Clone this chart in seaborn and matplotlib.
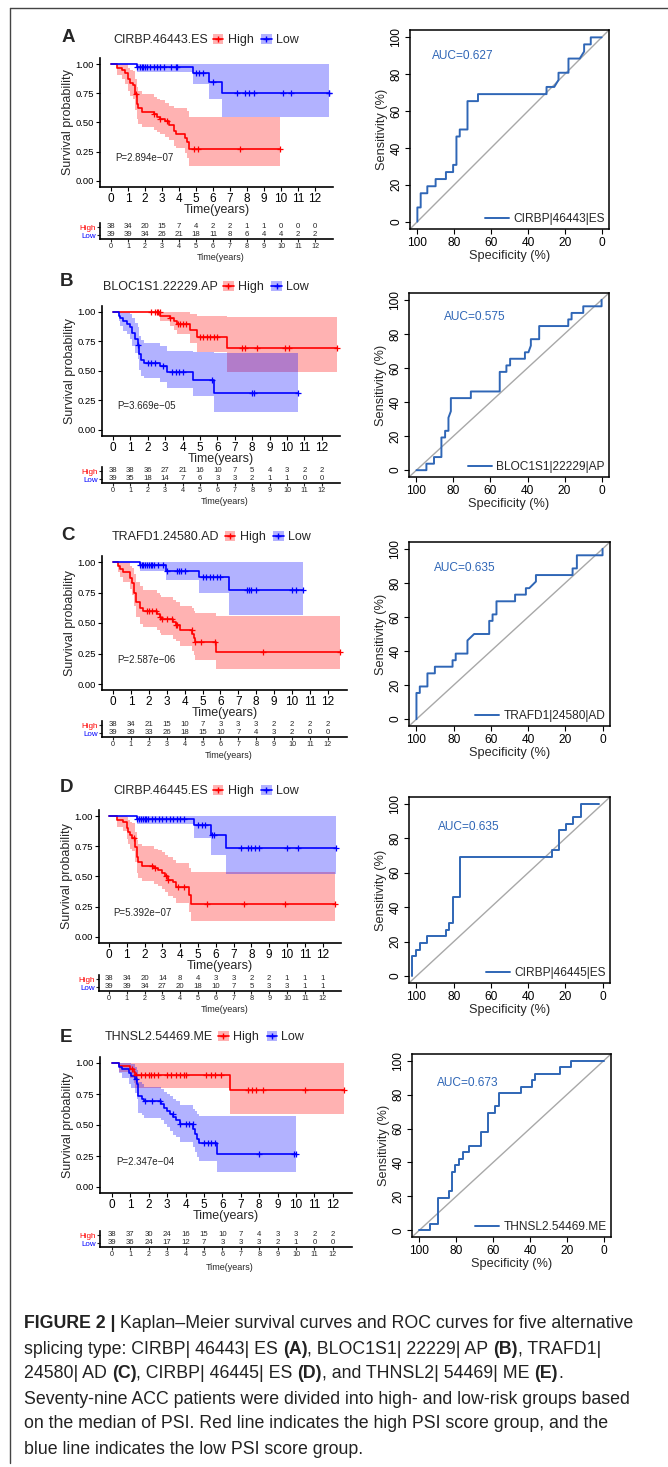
import numpy as np
import matplotlib
matplotlib.use("Agg")
import matplotlib.pyplot as plt
import seaborn as sns
from matplotlib.patches import Patch
from matplotlib.lines import Line2D

# ======================= DATA =======================
YEARS = list(range(13))

# ---- Panel A : CIRBP.46443.ES ----
A_hi_t = [0, 0.33, 0.63, 0.82, 1.0, 1.1, 1.3, 1.4, 1.5, 1.6, 1.8, 2.5, 2.7, 2.9, 3.2, 3.4, 3.7, 3.8, 4.35, 4.45, 4.6, 9.95]
A_hi_s = [1, 0.97, 0.95, 0.92, 0.87, 0.84, 0.82, 0.74, 0.66, 0.62, 0.59, 0.57, 0.55, 0.53, 0.51, 0.48, 0.43, 0.40, 0.37, 0.33, 0.27, 0.27]
A_hi_lo = [1, 0.91, 0.87, 0.83, 0.77, 0.73, 0.70, 0.61, 0.53, 0.49, 0.46, 0.44, 0.42, 0.40, 0.38, 0.35, 0.30, 0.28, 0.24, 0.20, 0.13, 0.13]
A_hi_up = [1, 1, 1, 1, 0.97, 0.95, 0.94, 0.87, 0.80, 0.77, 0.74, 0.72, 0.70, 0.69, 0.67, 0.64, 0.62, 0.62, 0.62, 0.60, 0.55, 0.55]
A_hi_cens = [1.45, 2.5, 2.9, 3.3, 4.9, 5.1, 7.6, 9.95]
A_lo_t = [0, 1.5, 4.8, 5.76, 6.5, 12.85]
A_lo_s = [1, 0.975, 0.925, 0.85, 0.75, 0.75]
A_lo_lo = [1, 0.93, 0.83, 0.70, 0.55, 0.55]
A_lo_up = [1, 1, 1, 1, 1, 1]
A_lo_cens = [1.5, 1.7, 1.8, 1.9, 2.0, 2.1, 2.3, 2.5, 2.7, 2.9, 3.1, 3.5, 3.8, 3.9, 5.0, 5.2, 5.4, 6.0,
             7.4, 7.9, 8.1, 8.4, 10.1, 10.6, 12.8, 12.85]
A_risk_high = [38, 34, 20, 15, 7, 4, 2, 2, 1, 1, 0, 0, 0]
A_risk_low = [39, 39, 34, 26, 21, 18, 11, 8, 6, 4, 4, 2, 2]
A_roc_spec = [100, 100, 98.2, 98.2, 94.6, 94.6, 90.1, 90.1, 84.5, 84.5, 80.6, 80.6, 78.8, 78.8, 77, 77, 72.8,
              72.8, 67.1, 67.1, 29.9, 29.9, 25.7, 23.4, 23.4, 18, 18, 11.9, 9.5, 9.5, 5.9, 5.9, 0]
A_roc_sens = [0, 7.7, 7.7, 15.4, 15.4, 19.2, 19.2, 23.1, 23.1, 26.9, 26.9, 30.8, 30.8, 46.2, 46.2, 50, 50,
              65.4, 65.4, 69.2, 69.2, 73.1, 73.1, 76.9, 80.8, 80.8, 88.5, 88.5, 92.3, 96.2, 96.2, 100, 100]

# ---- Panel B : BLOC1S1.22229.AP ----
B_hi_t = [0, 2.72, 3.3, 3.5, 3.67, 4.44, 4.8, 6.55, 12.85]
B_hi_s = [1, 0.97, 0.945, 0.92, 0.895, 0.845, 0.79, 0.695, 0.695]
B_hi_lo = [1, 0.92, 0.88, 0.85, 0.81, 0.74, 0.66, 0.49, 0.49]
B_hi_up = [1, 1, 1, 1, 1, 0.98, 0.97, 0.96, 0.96]
B_hi_cens = [2.2, 2.4, 2.5, 2.6, 2.7, 3.3, 3.75, 3.85, 4.0, 4.2, 5.0, 5.2, 5.4, 5.6, 5.8, 6.0, 7.4, 7.6,
             8.3, 9.9, 10.1, 12.85]
B_lo_t = [0, 0.33, 0.42, 0.6, 0.8, 1.0, 1.1, 1.28, 1.42, 1.5, 1.6, 1.76, 2.7, 3.1, 4.6, 5.78, 10.66]
B_lo_s = [1, 0.97, 0.945, 0.92, 0.895, 0.87, 0.82, 0.77, 0.72, 0.64, 0.59, 0.57, 0.54, 0.49, 0.425, 0.315, 0.315]
B_lo_lo = [1, 0.92, 0.88, 0.84, 0.81, 0.77, 0.71, 0.65, 0.60, 0.51, 0.46, 0.44, 0.41, 0.36, 0.29, 0.155, 0.155]
B_lo_up = [1, 1, 1, 1, 1, 0.98, 0.95, 0.91, 0.87, 0.80, 0.76, 0.74, 0.71, 0.67, 0.66, 0.655, 0.655]
B_lo_cens = [1.45, 2.0, 2.2, 2.4, 2.9, 3.4, 3.6, 3.8, 4.0, 5.7, 8.0, 8.1, 10.66]
B_risk_high = [38, 38, 36, 27, 21, 16, 10, 7, 5, 4, 3, 2, 2]
B_risk_low = [39, 35, 18, 14, 7, 6, 3, 3, 2, 1, 1, 0, 0]
B_roc_spec = [100, 94.6, 94.6, 90.5, 90.5, 86.5, 86.5, 84.5, 84.5, 82.7, 82.7, 81.4, 81.4, 70.6, 70.6, 55, 55,
              51.4, 51.4, 49.4, 49.4, 41.4, 41.4, 39.5, 38.2, 38.2, 33.7, 33.7, 18, 18, 16.2, 16.2, 9.9, 9.9, 0, 0]
B_roc_sens = [0, 0, 3.8, 3.8, 7.7, 7.7, 19.2, 19.2, 23.1, 23.1, 30.8, 34.6, 42.3, 42.3, 46.2, 46.2, 57.7, 57.7,
              61.5, 61.5, 65.4, 65.4, 69.2, 69.2, 73.1, 76.9, 76.9, 84.6, 84.6, 88.5, 88.5, 92.3, 92.3, 96.2, 96.2, 100]

# ---- Panel C : TRAFD1.24580.AD ----
C_hi_t = [0, 0.28, 0.4, 0.55, 0.93, 1.08, 1.2, 1.3, 1.5, 1.67, 2.45, 2.6, 2.7, 3.35, 3.5, 3.72, 4.43, 4.5, 4.56, 5.77, 12.7]
C_hi_s = [1, 0.97, 0.945, 0.92, 0.87, 0.83, 0.75, 0.67, 0.62, 0.595, 0.57, 0.55, 0.53, 0.505, 0.48, 0.44, 0.41,
          0.375, 0.345, 0.26, 0.26]
C_hi_lo = [1, 0.92, 0.88, 0.84, 0.78, 0.73, 0.64, 0.55, 0.49, 0.47, 0.44, 0.42, 0.40, 0.37, 0.35, 0.31, 0.27,
           0.24, 0.20, 0.12, 0.12]
C_hi_up = [1, 1, 1, 1, 0.97, 0.95, 0.90, 0.84, 0.80, 0.77, 0.75, 0.73, 0.71, 0.69, 0.67, 0.64, 0.62, 0.60,
           0.58, 0.56, 0.56]
C_hi_cens = [1.9, 2.0, 2.2, 2.4, 2.6, 2.75, 3.0, 3.3, 3.5, 3.6, 4.4, 4.6, 4.9, 5.7, 8.4, 12.7]
C_lo_t = [0, 1.5, 2.98, 4.78, 6.47, 10.6]
C_lo_s = [1, 0.978, 0.93, 0.877, 0.767, 0.767]
C_lo_lo = [1, 0.93, 0.85, 0.745, 0.565, 0.565]
C_lo_up = [1, 1, 1, 1, 1, 1]
C_lo_cens = [1.5, 1.6, 1.7, 1.8, 1.9, 2.0, 2.1, 2.2, 2.3, 2.5, 2.8, 3.0, 3.6, 3.7, 3.8, 4.0, 5.0, 5.2, 5.4,
             5.6, 5.8, 6.0, 7.5, 7.6, 7.7, 8.0, 10.0, 10.2, 10.6]
C_risk_high = [38, 34, 21, 15, 10, 7, 3, 3, 3, 2, 2, 2, 2]
C_risk_low = [39, 39, 33, 26, 18, 15, 10, 7, 4, 3, 2, 0, 0]
C_roc_spec = [100, 100, 98.2, 98.2, 94.1, 94.1, 90.1, 90.1, 80.6, 80.6, 78.9, 78.9, 72.6, 72.6, 69, 60.9, 60.9,
              59.1, 59.1, 57, 57, 47, 47, 41.2, 41.2, 39.4, 35.8, 35.8, 16.1, 16.1, 13.8, 13.8, 0, 0]
C_roc_sens = [0, 15.4, 15.4, 19.2, 19.2, 26.9, 26.9, 30.8, 30.8, 34.6, 34.6, 38.5, 38.5, 46.2, 50, 50, 57.7,
              57.7, 61.5, 61.5, 69.2, 69.2, 73.1, 73.1, 76.9, 76.9, 80.8, 84.6, 84.6, 88.5, 88.5, 96.2, 96.2, 100]

# ---- Panel D : CIRBP.46445.ES ----
D_hi_t = [0, 0.43, 0.8, 1.0, 1.08, 1.17, 1.32, 1.45, 1.55, 1.65, 1.83, 2.55, 2.76, 2.95, 3.13, 3.3, 3.6, 3.75, 4.5, 4.6, 12.7]
D_hi_s = [1, 0.97, 0.95, 0.90, 0.87, 0.84, 0.82, 0.74, 0.66, 0.62, 0.59, 0.57, 0.55, 0.53, 0.50, 0.47, 0.455,
          0.41, 0.35, 0.275, 0.275]
D_hi_lo = [1, 0.91, 0.88, 0.81, 0.77, 0.73, 0.71, 0.62, 0.53, 0.49, 0.46, 0.44, 0.42, 0.40, 0.37, 0.34, 0.32,
           0.28, 0.21, 0.13, 0.13]
D_hi_up = [1, 1, 1, 0.99, 0.97, 0.95, 0.94, 0.87, 0.80, 0.77, 0.75, 0.73, 0.72, 0.70, 0.68, 0.66, 0.64, 0.61,
           0.57, 0.54, 0.54]
D_hi_cens = [1.4, 2.4, 2.6, 3.2, 3.3, 3.9, 4.2, 5.5, 7.6, 9.9, 12.7]
D_lo_t = [0, 1.55, 4.78, 5.75, 6.59, 12.75]
D_lo_s = [1, 0.975, 0.925, 0.845, 0.735, 0.735]
D_lo_lo = [1, 0.93, 0.82, 0.68, 0.52, 0.52]
D_lo_up = [1, 1, 1, 1, 1, 1]
D_lo_cens = [1.55, 1.7, 1.8, 1.9, 2.0, 2.1, 2.2, 2.4, 2.6, 2.8, 3.0, 3.2, 3.4, 3.6, 3.8, 4.0, 4.2, 5.0, 5.2,
             5.4, 5.8, 5.9, 7.4, 7.8, 8.0, 8.2, 8.4, 10.0, 10.6, 12.75]
D_risk_high = [38, 34, 20, 14, 8, 4, 3, 3, 2, 2, 1, 1, 1]
D_risk_low = [39, 39, 34, 27, 20, 18, 10, 7, 5, 3, 3, 1, 1]
D_roc_spec = [102.3, 102.3, 100.4, 100.4, 98.2, 98.2, 94.3, 94.3, 84.2, 84.2, 82.4, 82.4, 80.6, 80.6, 76.7,
              76.7, 27.4, 27.4, 23.5, 23.5, 19.7, 19.7, 15.8, 15.8, 11.6, 11.6, 1.8]
D_roc_sens = [0, 11.5, 11.5, 15.4, 15.4, 19.2, 19.2, 23.1, 23.1, 26.9, 26.9, 30.8, 30.8, 46.2, 46.2, 69.2,
              69.2, 73.1, 73.1, 84.6, 84.6, 88.5, 88.5, 92.3, 92.3, 100, 100]

# ---- Panel E : THNSL2.54469.ME ----
E_hi_t = [0, 0.36, 1.0, 1.17, 1.26, 6.44, 12.6]
E_hi_s = [1, 0.975, 0.95, 0.925, 0.90, 0.78, 0.78]
E_hi_lo = [1, 0.93, 0.88, 0.84, 0.80, 0.59, 0.59]
E_hi_up = [1, 1, 1, 1, 1, 1, 1]
E_hi_cens = [1.1, 1.3, 1.6, 1.8, 2.0, 2.1, 2.3, 2.5, 3.0, 3.2, 3.5, 3.7, 3.9, 4.0, 5.1, 5.4, 5.6, 5.9, 7.4,
             7.6, 7.8, 8.2, 10.5, 12.6]
E_lo_t = [0, 0.36, 0.54, 0.9, 1.03, 1.25, 1.35, 1.4, 1.44, 1.62, 1.75, 2.65, 2.8, 3.0, 3.16, 3.34, 3.5, 3.7,
          4.42, 4.52, 4.64, 4.72, 5.72, 10.0]
E_lo_s = [1, 0.97, 0.95, 0.92, 0.895, 0.87, 0.83, 0.77, 0.73, 0.71, 0.69, 0.67, 0.64, 0.615, 0.59, 0.565, 0.54,
          0.505, 0.47, 0.43, 0.39, 0.355, 0.265, 0.265]
E_lo_lo = [1, 0.92, 0.88, 0.83, 0.80, 0.76, 0.71, 0.65, 0.60, 0.58, 0.56, 0.54, 0.51, 0.48, 0.45, 0.42, 0.40,
           0.36, 0.32, 0.28, 0.24, 0.21, 0.125, 0.125]
E_lo_up = [1, 1, 1, 1, 0.99, 0.97, 0.94, 0.89, 0.85, 0.83, 0.81, 0.79, 0.77, 0.75, 0.73, 0.71, 0.69, 0.66,
           0.63, 0.61, 0.59, 0.57, 0.575, 0.575]
E_lo_cens = [1.3, 1.8, 2.2, 2.6, 3.3, 3.7, 4.0, 4.2, 4.4, 5.0, 5.2, 5.4, 5.6, 8.0, 9.9, 10.0]
E_risk_high = [38, 37, 30, 24, 16, 15, 10, 7, 4, 3, 3, 2, 2]
E_risk_low = [39, 36, 24, 17, 12, 7, 3, 3, 3, 2, 1, 0, 0]
E_roc_spec = [100, 94, 94, 90.1, 90.1, 84.1, 84.1, 82.3, 82.3, 80.5, 80.5, 78.3, 78.3, 76.5, 76.5, 72.9, 72.9,
              66.5, 66.5, 62.9, 62.9, 58.8, 58.8, 56.6, 56.6, 44.8, 44.8, 38.9, 38.9, 37.1, 37.1, 23.5, 23.5,
              17.5, 17.5, 0]
E_roc_sens = [0, 0, 3.8, 3.8, 19.2, 19.2, 23.1, 23.1, 34.6, 34.6, 38.5, 38.5, 42.3, 42.3, 46.2, 46.2, 50, 50,
              57.7, 57.7, 69.2, 69.2, 73.1, 73.1, 80.8, 80.8, 84.6, 84.6, 88.5, 88.5, 92.3, 92.3, 96.2, 96.2,
              100, 100]

LETTERS = ['A', 'B', 'C', 'D', 'E']
NAMES = ['CIRBP.46443.ES', 'BLOC1S1.22229.AP', 'TRAFD1.24580.AD', 'CIRBP.46445.ES', 'THNSL2.54469.ME']
PVALUES = ['P=2.894e\u221207', 'P=3.669e\u221205', 'P=2.587e\u221206', 'P=5.392e\u221207', 'P=2.347e\u221204']
ROC_LABELS = ['CIRBP|46443|ES', 'BLOC1S1|22229|AP', 'TRAFD1|24580|AD', 'CIRBP|46445|ES', 'THNSL2.54469.ME']
AUCS = [0.627, 0.575, 0.635, 0.635, 0.673]
GROUPS = ['High', 'Low']

CAPTION = [
    [("FIGURE 2 |", True), (" Kaplan\u2013Meier survival curves and ROC curves for five alternative", False)],
    [("splicing type: CIRBP| 46443| ES ", False), ("(A)", True), (", BLOC1S1| 22229| AP ", False), ("(B)", True),
     (", TRAFD1|", False)],
    [("24580| AD ", False), ("(C)", True), (", CIRBP| 46445| ES ", False), ("(D)", True),
     (", and THNSL2| 54469| ME ", False), ("(E)", True), (".", False)],
    [("Seventy-nine ACC patients were divided into high- and low-risk groups based", False)],
    [("on the median of PSI. Red line indicates the high PSI score group, and the", False)],
    [("blue line indicates the low PSI score group.", False)],
]

# ======================= LAYOUT (pixels) =======================
W, H = 668, 1467
LAY = {
    'A': dict(letter=(62, 37), title=(113, 40), km=(111, 17.0, 64, 181, 100), tab=(227, 235, 239, 257),
              roc=(410, 30, 609, 229), auc=(92, 90)),
    'B': dict(letter=(60, 281), title=(103, 287), km=(113, 17.4, 312, 430, 102), tab=(471, 479, 483, 502),
              roc=(409, 293, 609, 477), auc=(85, 90)),
    'C': dict(letter=(61, 535), title=(112, 537), km=(113, 17.9, 562, 684, 102), tab=(725, 733, 737, 755),
              roc=(409, 542, 610, 726), auc=(90.5, 88.5)),
    'D': dict(letter=(60, 788), title=(113, 791), km=(109, 17.8, 816, 937, 99), tab=(979, 987, 991, 1010),
              roc=(409, 797, 610, 983), auc=(88.7, 86.5)),
    'E': dict(letter=(60, 1037), title=(105, 1037), km=(112, 18.4, 1063, 1187, 100), tab=(1235, 1243, 1247, 1267),
              roc=(412, 1054, 611, 1237), auc=(90.2, 87)),
}

RED, BLUE = '#FF0000', '#0000FF'
ROC_C = '#2F66B6'

sns.set_theme(style="white")
plt.rcParams['font.family'] = ['Liberation Sans', 'DejaVu Sans']
plt.rcParams['axes.unicode_minus'] = True

fig = plt.figure(figsize=(W / 100, H / 100), dpi=100)
renderer = fig.canvas.get_renderer()


def box(l, t, r, b):
    return [l / W, 1 - b / H, (r - l) / W, (b - t) / H]


def fx(x):
    return x / W


def fy(y):
    return 1 - y / H


def step_at(t, s, c):
    t = np.asarray(t, float)
    s = np.asarray(s, float)
    idx = np.searchsorted(t, np.asarray(c, float), side='right') - 1
    return s[np.clip(idx, 0, len(s) - 1)]


g = globals()
for L in LETTERS:
    i = LETTERS.index(L)
    lay = LAY[L]
    # ---------- letter, title, legend ----------
    fig.text(fx(lay['letter'][0]), fy(lay['letter'][1]), L, fontsize=13.5, fontweight='bold',
             ha='left', va='center', family=['Liberation Sans', 'DejaVu Sans'])
    tt = fig.text(fx(lay['title'][0]), fy(lay['title'][1]), NAMES[i], fontsize=9, ha='left', va='center')
    bb = tt.get_window_extent(renderer)
    handles = [(Patch(facecolor=c, alpha=0.3, edgecolor='none'),
                Line2D([], [], color=c, lw=1.2, marker='+', ms=5, mew=1)) for c in (RED, BLUE)]
    fig.legend(handles, GROUPS, loc='center left', bbox_to_anchor=((bb.x1 + 5) / W, fy(lay['title'][1])),
               ncol=2, frameon=False, fontsize=9, handlelength=0.85, handleheight=0.85, handletextpad=0.35,
               columnspacing=0.6, borderpad=0, borderaxespad=0)

    # ---------- KM plot ----------
    x0, ppy, y1, y0, left = lay['km']
    right = x0 + 13.05 * ppy
    span = y0 - y1
    ax = fig.add_axes(box(left, y1 - 0.05 * span, right, y0 + 0.05 * span))
    for grp, col in (('hi', RED), ('lo', BLUE)):
        t = g[f'{L}_{grp}_t']
        lo = g[f'{L}_{grp}_lo']
        up = g[f'{L}_{grp}_up']
        ax.fill_between(t, lo, up, step='post', color=col, alpha=0.3, lw=0)
    for grp, col in (('hi', RED), ('lo', BLUE)):
        t = g[f'{L}_{grp}_t']
        s = g[f'{L}_{grp}_s']
        cens = g[f'{L}_{grp}_cens']
        sns.lineplot(x=t, y=s, drawstyle='steps-post', color=col, lw=1.2, estimator=None, sort=False, ax=ax)
        sns.scatterplot(x=cens, y=step_at(t, s, cens), marker='+', color=col, s=16, linewidth=0.9, ax=ax,
                        zorder=4)
    ax.set_xlim((left - x0) / ppy, (right - x0) / ppy)
    ax.set_ylim(-0.05, 1.05)
    ax.set_xticks(YEARS)
    ax.set_xticklabels([str(y) for y in YEARS], fontsize=8.5, color='black')
    ax.set_yticks([0, 0.25, 0.5, 0.75, 1.0])
    ax.set_yticklabels(['0.00', '0.25', '0.50', '0.75', '1.00'], fontsize=6.8, color='#222222')
    ax.tick_params(axis='both', direction='out', length=3, width=0.8, bottom=True, left=True, pad=1.5,
                   colors='black')
    for sp in ('top', 'right'):
        ax.spines[sp].set_visible(False)
    for sp in ('left', 'bottom'):
        ax.spines[sp].set_color('black')
        ax.spines[sp].set_linewidth(1.2)
    ax.set_xlabel('Time(years)', fontsize=9, labelpad=-1)
    ax.set_ylabel('Survival probability', fontsize=9, labelpad=1)
    ax.text(0.25, 0.2, PVALUES[i], fontsize=7, ha='left', va='center')

    # ---------- risk table ----------
    ry_hi, ry_lo, r_sp, r_lab = lay['tab']
    d = ry_lo - ry_hi
    top = ry_hi - (r_sp - ry_lo)
    tax = fig.add_axes(box(left, top, right, r_sp))
    tax.set_xlim((left - x0) / ppy, (right - x0) / ppy)
    tax.set_ylim(-(r_sp - ry_lo) / d, 1 + (r_sp - ry_lo) / d)
    for yv, vals in ((1, g[f'{L}_risk_high']), (0, g[f'{L}_risk_low'])):
        for yr, v in zip(YEARS, vals):
            tax.text(yr, yv, str(v), fontsize=5.6, ha='center', va='center')
    tax.set_xticks(YEARS)
    tax.set_xticklabels([str(y) for y in YEARS], fontsize=5.2)
    tax.set_yticks([1, 0])
    tax.set_yticklabels(GROUPS, fontsize=5.8)
    for lab, c in zip(tax.get_yticklabels(), (RED, BLUE)):
        lab.set_color(c)
    tax.tick_params(axis='both', direction='out', length=2, width=0.8, bottom=True, left=True, pad=1)
    for sp in ('top', 'right'):
        tax.spines[sp].set_visible(False)
    for sp in ('left', 'bottom'):
        tax.spines[sp].set_color('black')
        tax.spines[sp].set_linewidth(1.2)
    fig.text(fx((left + right) / 2 + 4), fy(r_lab), 'Time(years)', fontsize=6.5, ha='center', va='center')

    # ---------- ROC ----------
    rl, rt, rr, rb = lay['roc']
    rax = fig.add_axes(box(rl, rt, rr, rb))
    rax.axline((100, 0), (0, 100), color='#A8A8A8', lw=1.0, zorder=1)
    sns.lineplot(x=g[f'{L}_roc_spec'], y=g[f'{L}_roc_sens'], sort=False, estimator=None, color=ROC_C, lw=1.4,
                 ax=rax, label=ROC_LABELS[i], zorder=3)
    rax.set_xlim(104, -4)
    rax.set_ylim(-4, 104)
    rax.set_xticks([100, 80, 60, 40, 20, 0])
    rax.set_xticklabels(['100', '80', '60', '40', '20', '0'], fontsize=8.6)
    rax.set_yticks([0, 20, 40, 60, 80, 100])
    rax.set_yticklabels(['0', '20', '40', '60', '80', '100'], fontsize=8.6, rotation=90, va='center')
    rax.tick_params(axis='both', direction='out', length=3.5, width=0.8, bottom=True, left=True, pad=2,
                    colors='black')
    for sp in rax.spines.values():
        sp.set_visible(True)
        sp.set_color('black')
        sp.set_linewidth(1.1)
    rax.set_xlabel('Specificity (%)', fontsize=9.2, labelpad=1)
    rax.set_ylabel('Sensitivity (%)', fontsize=9.2, labelpad=2)
    rax.text(lay['auc'][0], lay['auc'][1], f'AUC={AUCS[i]:.3f}', color=ROC_C, fontsize=8.6, ha='left',
             va='center')
    rax.legend(loc='lower right', frameon=False, fontsize=8.6, handlelength=2.0, handletextpad=0.4,
               borderaxespad=0.15, borderpad=0.2)

# ---------- caption ----------
CAP_FAMILY = ['Liberation Sans', 'DejaVu Sans']
cap_y = [1324, 1349, 1374, 1399, 1424, 1449]
for line, yl in zip(CAPTION, cap_y):
    xcur = 24
    for txt, bold in line:
        tx = fig.text(fx(xcur), fy(yl), txt, fontsize=12.8, fontweight='bold' if bold else 'normal',
                      family=CAP_FAMILY, ha='left', va='center', color='#222222')
        xcur += tx.get_window_extent(renderer).width

# ---------- outer frame ----------
fig.add_artist(Line2D([fx(10), fx(10)], [fy(8), fy(1463)], color='#444444', lw=1.0))
fig.add_artist(Line2D([fx(10), fx(668)], [fy(8), fy(8)], color='#444444', lw=1.0))

fig.savefig('out.png', dpi=100)
